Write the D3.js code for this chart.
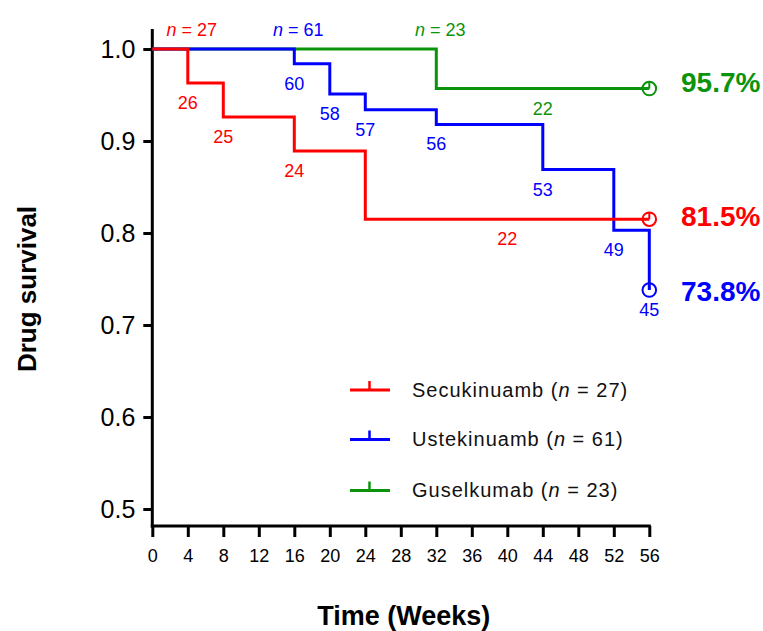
<!DOCTYPE html>
<html>
<head>
<meta charset="utf-8">
<script src="https://cdn.jsdelivr.net/npm/d3@7"></script>
<style>
  html, body { margin: 0; padding: 0; background: #fff; }
  svg { display: block; font-family: "Liberation Sans", Arial, sans-serif; }
</style>
</head>
<body>
<svg id="chart" width="763" height="631"></svg>
<script>
// ---------- data ----------
const weekTicks = [0, 4, 8, 12, 16, 20, 24, 28, 32, 36, 40, 44, 48, 52, 56];
const survivalTicks = [0.5, 0.6, 0.7, 0.8, 0.9, 1.0];

const seriesNames = ["Secukinuamb", "Ustekinuamb", "Guselkumab"];
const seriesN = [27, 61, 23];

// step points (week, survival)
const secWeeks = [0, 4, 8, 16, 24, 56];
const secSurv  = [1.0, 0.963, 0.926, 0.889, 0.815, 0.815];
const ustWeeks = [0, 16, 20, 24, 32, 44, 52, 56];
const ustSurv  = [1.0, 0.984, 0.951, 0.934, 0.918, 0.869, 0.803, 0.738];
const gusWeeks = [0, 32, 56];
const gusSurv  = [1.0, 0.957, 0.957];

// at-risk count annotations (week at which shown, level, count)
const secLabelWeeks = [4, 8, 16, 40];
const secLabelLevels = [0.963, 0.926, 0.889, 0.815];
const secLabelCounts = [26, 25, 24, 22];
const ustLabelWeeks = [16, 20, 24, 32, 44, 52, 56];
const ustLabelLevels = [0.984, 0.951, 0.934, 0.918, 0.869, 0.803, 0.738];
const ustLabelCounts = [60, 58, 57, 56, 53, 49, 45];
const gusLabelWeeks = [44];
const gusLabelLevels = [0.957];
const gusLabelCounts = [22];

const nLabelWeeks = [4, 16, 32];
const finalPercents = ["81.5%", "73.8%", "95.7%"];

// ---------- layout ----------
const colors = ["#ff0000", "#0000ff", "#0b930b"];
const svg = d3.select("#chart");
const x = d3.scaleLinear().domain([0, 56]).range([152.3, 649.3]);
const y = d3.scaleLinear().domain([0.5, 1.0]).range([509, 49]);
const yBottom = 526, yTop = 29;

// axes
const xAxis = d3.axisBottom(x).tickValues(weekTicks).tickSize(11).tickPadding(12).tickFormat(d3.format("d"));
const gx = svg.append("g").attr("transform", `translate(0,${yBottom})`).call(xAxis);
gx.select(".domain").remove();
gx.selectAll(".tick line").attr("stroke", "#000").attr("stroke-width", 3);
gx.selectAll(".tick text").attr("font-size", 18).attr("fill", "#000")
  .attr("font-family", "'Liberation Sans', Arial, sans-serif");

const yAxis = d3.axisLeft(y).tickValues(survivalTicks).tickSize(9).tickPadding(8).tickFormat(d3.format(".1f"));
const gy = svg.append("g").attr("transform", `translate(${x(0)},0)`).call(yAxis);
gy.select(".domain").remove();
gy.selectAll(".tick line").attr("stroke", "#000").attr("stroke-width", 3);
gy.selectAll(".tick text").attr("font-size", 25).attr("fill", "#000")
  .attr("font-family", "'Liberation Sans', Arial, sans-serif");

svg.append("line").attr("x1", x(0)).attr("x2", x(0)).attr("y1", yTop).attr("y2", yBottom + 1.5)
  .attr("stroke", "#000").attr("stroke-width", 3);
svg.append("line").attr("x1", x(0) - 1.5).attr("x2", x(56) + 1.5).attr("y1", yBottom).attr("y2", yBottom)
  .attr("stroke", "#000").attr("stroke-width", 3);

// axis titles
svg.append("text").attr("x", x(28) + 3).attr("y", 625).attr("text-anchor", "middle")
  .attr("font-size", 27).attr("font-weight", "bold").text("Time (Weeks)");
svg.append("text").attr("transform", "translate(36,289) rotate(-90)").attr("text-anchor", "middle")
  .attr("font-size", 26).attr("font-weight", "bold").text("Drug survival");

// curves (draw green, blue, red so red is on top)
const series = [
  { w: secWeeks, s: secSurv, lw: secLabelWeeks, ll: secLabelLevels, lc: secLabelCounts },
  { w: ustWeeks, s: ustSurv, lw: ustLabelWeeks, ll: ustLabelLevels, lc: ustLabelCounts },
  { w: gusWeeks, s: gusSurv, lw: gusLabelWeeks, ll: gusLabelLevels, lc: gusLabelCounts }
];
const line = d3.line().x(d => x(d[0])).y(d => y(d[1])).curve(d3.curveStepAfter);
[2, 1, 0].forEach(i => {
  const sr = series[i];
  const pts = sr.w.map((w, k) => [w, sr.s[k]]);
  svg.append("path").attr("d", line(pts)).attr("fill", "none")
    .attr("stroke", colors[i]).attr("stroke-width", 3);
  // censor mark
  const last = pts[pts.length - 1];
  const cx = x(last[0]), cy = y(last[1]);
  svg.append("circle").attr("cx", cx).attr("cy", cy).attr("r", 6.8)
    .attr("fill", "none").attr("stroke", colors[i]).attr("stroke-width", 2);
  svg.append("line").attr("x1", cx).attr("x2", cx).attr("y1", cy).attr("y2", cy - 6.8)
    .attr("stroke", colors[i]).attr("stroke-width", 2);
});

// at-risk counts
series.forEach((sr, i) => {
  sr.lw.forEach((w, k) => {
    svg.append("text").attr("x", x(w)).attr("y", y(sr.ll[k]) + 26)
      .attr("text-anchor", "middle").attr("font-size", 18).attr("fill", colors[i])
      .text(sr.lc[k]);
  });
  // n labels at top
  const t = svg.append("text").attr("x", x(nLabelWeeks[i]) + 4).attr("y", y(1.0) - 13)
    .attr("text-anchor", "middle").attr("font-size", 18).attr("fill", colors[i]);
  t.append("tspan").attr("font-style", "italic").text("n");
  t.append("tspan").text(" = " + seriesN[i]);
});

// final percentages
const pctOffsets = [6.5, 10.7, 3];
series.forEach((sr, i) => {
  svg.append("text").attr("x", 681).attr("y", y(sr.s[sr.s.length - 1]) + pctOffsets[i])
    .attr("font-size", 28).attr("font-weight", "bold").attr("fill", colors[i])
    .text(finalPercents[i]);
});

// legend
const legY = [390, 439.5, 490.5];
seriesNames.forEach((name, i) => {
  const g = svg.append("g");
  g.append("line").attr("x1", 350).attr("x2", 390).attr("y1", legY[i]).attr("y2", legY[i])
    .attr("stroke", colors[i]).attr("stroke-width", 3);
  g.append("line").attr("x1", 369.5).attr("x2", 369.5).attr("y1", legY[i]).attr("y2", legY[i] - 9)
    .attr("stroke", colors[i]).attr("stroke-width", 2.5);
  const t = g.append("text").attr("x", 412).attr("y", legY[i] + 6.7)
    .attr("font-size", 20).attr("letter-spacing", 1).attr("fill", "#111");
  t.append("tspan").text(name + " (");
  t.append("tspan").attr("font-style", "italic").text("n");
  t.append("tspan").text(" = " + seriesN[i] + ")");
});
</script>
</body>
</html>
